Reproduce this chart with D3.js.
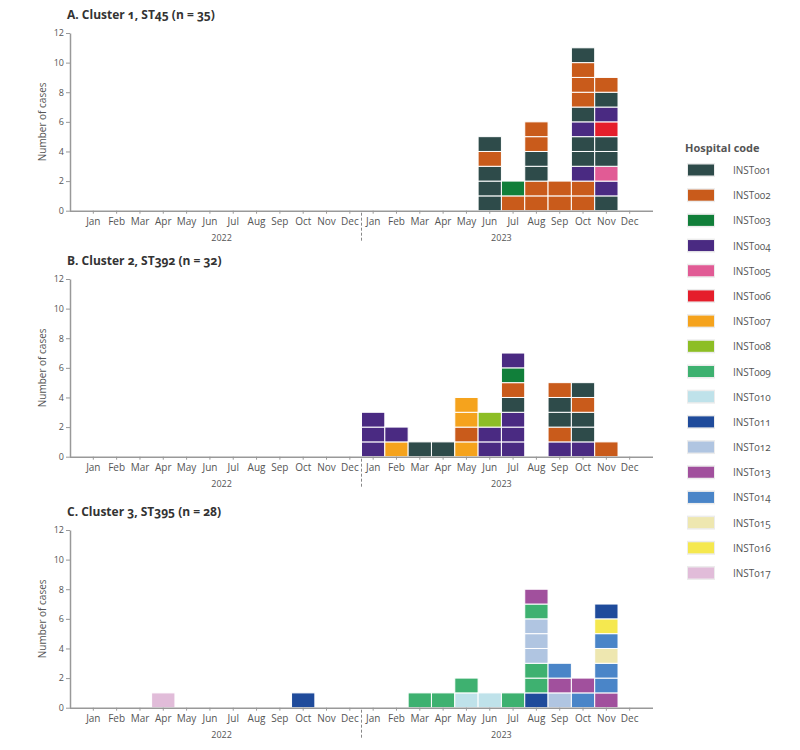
<!DOCTYPE html>
<html>
<head>
<meta charset="utf-8">
<script src="https://cdn.jsdelivr.net/npm/d3@7"></script>
<style>
  body { margin: 0; background: #fff; }
  svg text { font-family: "Open Sans", "Noto Sans", sans-serif; fill: #555; }
  .title { font-weight: 700; fill: #333; font-feature-settings: "onum"; }
  .legend text { font-feature-settings: "onum"; }
</style>
</head>
<body>
<div id="chart"></div>
<script>
// months shown on each x axis, two years in a row
var months = ["Jan", "Feb", "Mar", "Apr", "May", "Jun", "Jul", "Aug", "Sep", "Oct", "Nov", "Dec"];
var years = ["2022", "2023"];
var yTicks = [0, 2, 4, 6, 8, 10, 12];

var hospitals = ["INST001", "INST002", "INST003", "INST004", "INST005", "INST006", "INST007", "INST008", "INST009",
                 "INST010", "INST011", "INST012", "INST013", "INST014", "INST015", "INST016", "INST017"];
var hospitalColours = ["#2e4b4a", "#c95b1b", "#117f3a", "#4a2a82", "#e15b95", "#e51e2b", "#f5a31d", "#8dbe25", "#3eb170",
                       "#bfe2ea", "#1f4b9b", "#b0c5e1", "#a1509d", "#4a85c8", "#eee7b0", "#f5e84f", "#e1bcd9"];

// cases per month: [year, month, hospitals from bottom to top]
var clusterA = [
  ["2023", "Jun", ["INST001", "INST001", "INST001", "INST002", "INST001"]],
  ["2023", "Jul", ["INST002", "INST003"]],
  ["2023", "Aug", ["INST002", "INST002", "INST001", "INST001", "INST002", "INST002"]],
  ["2023", "Sep", ["INST002", "INST002"]],
  ["2023", "Oct", ["INST002", "INST002", "INST004", "INST001", "INST001", "INST004", "INST001", "INST002", "INST002", "INST002", "INST001"]],
  ["2023", "Nov", ["INST001", "INST004", "INST005", "INST001", "INST001", "INST006", "INST004", "INST001", "INST002"]]
];
var clusterB = [
  ["2023", "Jan", ["INST004", "INST004", "INST004"]],
  ["2023", "Feb", ["INST007", "INST004"]],
  ["2023", "Mar", ["INST001"]],
  ["2023", "Apr", ["INST001"]],
  ["2023", "May", ["INST007", "INST002", "INST007", "INST007"]],
  ["2023", "Jun", ["INST004", "INST004", "INST008"]],
  ["2023", "Jul", ["INST004", "INST004", "INST004", "INST001", "INST002", "INST003", "INST004"]],
  ["2023", "Sep", ["INST004", "INST002", "INST001", "INST001", "INST002"]],
  ["2023", "Oct", ["INST004", "INST001", "INST001", "INST002", "INST001"]],
  ["2023", "Nov", ["INST002"]]
];
var clusterC = [
  ["2022", "Apr", ["INST017"]],
  ["2022", "Oct", ["INST011"]],
  ["2023", "Mar", ["INST009"]],
  ["2023", "Apr", ["INST009"]],
  ["2023", "May", ["INST010", "INST009"]],
  ["2023", "Jun", ["INST010"]],
  ["2023", "Jul", ["INST009"]],
  ["2023", "Aug", ["INST011", "INST009", "INST009", "INST012", "INST012", "INST012", "INST009", "INST013"]],
  ["2023", "Sep", ["INST012", "INST013", "INST014"]],
  ["2023", "Oct", ["INST014", "INST013"]],
  ["2023", "Nov", ["INST013", "INST014", "INST014", "INST015", "INST014", "INST016", "INST011"]]
];

var panels = [
  {title: "A. Cluster 1, ST45 (n = 35)", data: clusterA, top: 33},
  {title: "B. Cluster 2, ST392 (n = 32)", data: clusterB, top: 279},
  {title: "C. Cluster 3, ST395 (n = 28)", data: clusterC, top: 530}
];

var W = 800, H = 750;
var plotLeft = 70, plotRight = 653, plotH = 177.7;

var svg = d3.select("#chart").append("svg")
    .attr("width", W)
    .attr("height", H);

var colour = d3.scaleOrdinal().domain(hospitals).range(hospitalColours);

var monthKeys = [];
years.forEach(function(yr) { months.forEach(function(m) { monthKeys.push(yr + "-" + m); }); });

var x = d3.scaleBand()
    .domain(monthKeys)
    .range([plotLeft, plotRight])
    .paddingInner(0)
    .paddingOuter(0.5);

panels.forEach(function(p) {
  var g = svg.append("g").attr("transform", `translate(0,${p.top})`);
  var y = d3.scaleLinear().domain([0, 12]).range([plotH, 0]);

  g.append("text")
    .attr("class", "title")
    .attr("x", plotLeft - 3)
    .attr("y", -14)
    .style("font-size", "12px")
    .text(p.title);

  // cells, one rect per case
  var cells = [];
  p.data.forEach(function(d) {
    d[2].forEach(function(h, i) {
      cells.push({key: d[0] + "-" + d[1], level: i, hosp: h});
    });
  });
  g.append("g").selectAll("rect")
    .data(cells)
    .join("rect")
      .attr("x", d => x(d.key))
      .attr("width", x.bandwidth())
      .attr("y", d => y(d.level + 1))
      .attr("height", d => y(d.level) - y(d.level + 1))
      .attr("fill", d => colour(d.hosp))
      .attr("stroke", "#fff")
      .attr("stroke-width", 1);

  // y axis
  var yAxis = g.append("g")
    .attr("transform", `translate(${plotLeft},0)`)
    .call(d3.axisLeft(y).tickValues(yTicks).tickSize(4).tickSizeOuter(0));
  yAxis.select(".domain").attr("stroke", "#999").attr("stroke-width", 1.5);
  yAxis.selectAll(".tick line").attr("stroke", "#999");
  yAxis.selectAll("text").style("font-size", "9px").attr("fill", "#666").attr("x", -6);

  g.append("text")
    .attr("transform", `translate(46,${plotH / 2}) rotate(-90)`)
    .attr("text-anchor", "middle")
    .style("font-size", "10px")
    .text("Number of cases");

  // x axis
  var xAxis = g.append("g")
    .attr("transform", `translate(0,${plotH})`)
    .call(d3.axisBottom(x).tickSize(3).tickSizeOuter(0).tickFormat(k => k.split("-")[1]));
  xAxis.select(".domain").attr("stroke", "#999").attr("stroke-width", 1.5)
    .attr("d", `M${plotLeft},0.5H${plotRight}`);
  xAxis.selectAll(".tick line").attr("stroke", "#999");
  xAxis.selectAll("text").style("font-size", "10px").attr("fill", "#555").attr("y", 7);

  // year labels and dashed divider
  years.forEach(function(yr) {
    var a = x(yr + "-Jan"), b = x(yr + "-Dec") + x.bandwidth();
    g.append("text")
      .attr("x", (a + b) / 2)
      .attr("y", plotH + 30)
      .attr("text-anchor", "middle")
      .style("font-size", "9px")
      .text(yr);
  });
  var divX = x("2023-Jan");
  g.append("line")
    .attr("x1", divX).attr("x2", divX)
    .attr("y1", plotH + 2).attr("y2", plotH + 30)
    .attr("stroke", "#888")
    .attr("stroke-dasharray", "3,2");
});

// legend
var legend = svg.append("g").attr("class", "legend").attr("transform", "translate(672,0)");
legend.append("text")
  .attr("x", 13).attr("y", 152)
  .style("font-size", "11px")
  .style("font-weight", "700")
  .attr("fill", "#333")
  .text("Hospital code");

var ly = d3.scalePoint().domain(hospitals).range([170, 573]);
var item = legend.selectAll(".item")
  .data(hospitals)
  .join("g")
    .attr("class", "item")
    .attr("transform", d => `translate(0,${ly(d)})`);
item.append("rect")
  .attr("x", 15).attr("y", -7).attr("width", 28).attr("height", 14)
  .attr("fill", "#ececec");
item.append("rect")
  .attr("x", 16).attr("y", -5.5).attr("width", 26).attr("height", 11)
  .attr("fill", d => colour(d));
item.append("text")
  .attr("x", 61).attr("y", 4)
  .style("font-size", "10px")
  .attr("fill", "#555")
  .text(d => d);
</script>
</body>
</html>
